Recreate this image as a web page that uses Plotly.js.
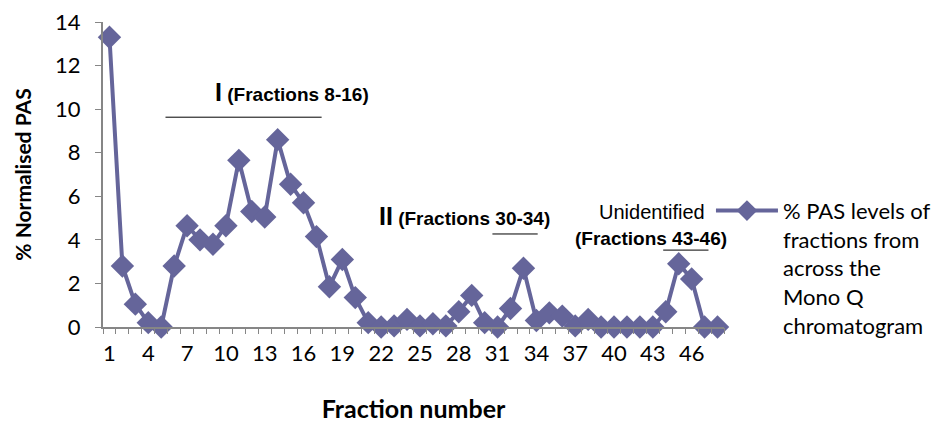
<!DOCTYPE html>
<html>
<head>
<meta charset="utf-8">
<script src="https://cdn.plot.ly/plotly-3.0.1.min.js"></script>
<style>html,body{margin:0;padding:0;background:#fff;}#chart{width:934px;height:442px;}</style>
</head>
<body>
<div id="chart"></div>
<script>
const fractions = Array.from({length: 48}, (_, i) => i + 1);
const pasValues = [13.3, 2.8, 1.05, 0.2, 0.0, 2.8, 4.65, 4.0, 3.8, 4.65,
  7.65, 5.3, 5.05, 8.6, 6.55, 5.7, 4.15, 1.85, 3.1, 1.35,
  0.2, 0.0, 0.05, 0.35, 0.05, 0.15, 0.05, 0.7, 1.45, 0.2,
  0.0, 0.85, 2.7, 0.3, 0.65, 0.5, 0.05, 0.35, 0.0, 0.0,
  0.0, 0.0, 0.0, 0.7, 2.9, 2.2, 0.0, 0.0];
const xTickVals = [1, 4, 7, 10, 13, 16, 19, 22, 25, 28, 31, 34, 37, 40, 43, 46];
const yTickVals = [0, 2, 4, 6, 8, 10, 12, 14];
const seriesName = '% PAS levels of<br>fractions from<br>across the<br>Mono Q<br>chromatogram';

const col = '#65659A';
const axisCol = '#868686';
const fam = 'Lato, "Open Sans", sans-serif';
const arial = '"Liberation Sans", Arial, sans-serif';
const tickFont = {family: fam, size: 22, color: '#000'};
const boundaries = Array.from({length: 49}, (_, i) => i + 0.5);

const traces = [
  {x: fractions, y: pasValues, type: 'scatter', mode: 'lines+markers', name: seriesName,
   line: {color: col, width: 4}, marker: {symbol: 'diamond', size: 18, color: col},
   cliponaxis: false},
  {x: [0.5], y: [null], xaxis: 'x2', type: 'scatter', showlegend: false, hoverinfo: 'skip'}
];

const layout = {
  width: 934, height: 442,
  margin: {l: 103, r: 210, t: 22, b: 115, autoexpand: false},
  paper_bgcolor: '#fff', plot_bgcolor: '#fff',
  showlegend: true,
  legend: {x: 0.979, xanchor: 'left', y: 0.45, yanchor: 'top', valign: 'top',
    font: {family: fam, size: 22, color: '#000'},
    bgcolor: 'rgba(0,0,0,0)', itemwidth: 62, tracegroupgap: 0},
  xaxis: {range: [0.5, 48.5], tickmode: 'array', tickvals: xTickVals, automargin: false,
    ticks: '', showgrid: false, zeroline: false, showline: true, linecolor: axisCol, linewidth: 2,
    tickfont: tickFont, ticklabelstandoff: 6,
    title: {text: 'Fraction number', font: {family: fam, size: 25, color: '#000', weight: 'bold'}, standoff: 35}},
  xaxis2: {range: [0.5, 48.5], overlaying: 'x', tickmode: 'array', tickvals: boundaries,
    ticks: 'outside', ticklen: 6, tickcolor: axisCol, tickwidth: 1, showticklabels: false,
    showgrid: false, zeroline: false, showline: false},
  yaxis: {range: [0, 14], tickmode: 'array', tickvals: yTickVals, ticks: 'outside', ticklen: 6, automargin: false,
    tickcolor: axisCol, showgrid: false, zeroline: false, showline: true, linecolor: axisCol, linewidth: 2,
    tickfont: tickFont, ticklabelstandoff: 10,
    title: {text: '% Normalised PAS', font: {family: fam, size: 21, color: '#000', weight: 'bold'}, standoff: 18}},
  annotations: [
    {x: 15.08, y: 10.78, xref: 'x', yref: 'y', showarrow: false,
     text: '<span style="font-size:25px">I</span> (Fractions 8-16)',
     font: {family: arial, size: 19, color: '#000', weight: 'bold'}},
    {x: 28.46, y: 5.09, xref: 'x', yref: 'y', showarrow: false,
     text: '<span style="font-size:25px">II</span> (Fractions 30-34)',
     font: {family: arial, size: 19, color: '#000', weight: 'bold'}},
    {x: 42.9, y: 5.28, xref: 'x', yref: 'y', showarrow: false, text: 'Unidentified',
     font: {family: arial, size: 20, color: '#000'}},
    {x: 42.85, y: 4.08, xref: 'x', yref: 'y', showarrow: false, text: '(Fractions 43-46)',
     font: {family: arial, size: 19, color: '#000', weight: 'bold'}}
  ],
  shapes: [
    {type: 'line', xref: 'x', yref: 'y', x0: 5.33, x1: 17.4, y0: 9.63, y1: 9.63, line: {color: '#000', width: 1}},
    {type: 'line', xref: 'x', yref: 'y', x0: 30.6, x1: 34.1, y0: 4.27, y1: 4.27, line: {color: '#000', width: 1}},
    {type: 'line', xref: 'x', yref: 'y', x0: 43.8, x1: 47.3, y0: 3.53, y1: 3.53, line: {color: '#000', width: 1}}
  ]
};

Plotly.newPlot('chart', traces, layout, {displayModeBar: false, staticPlot: true});
</script>
</body>
</html>
